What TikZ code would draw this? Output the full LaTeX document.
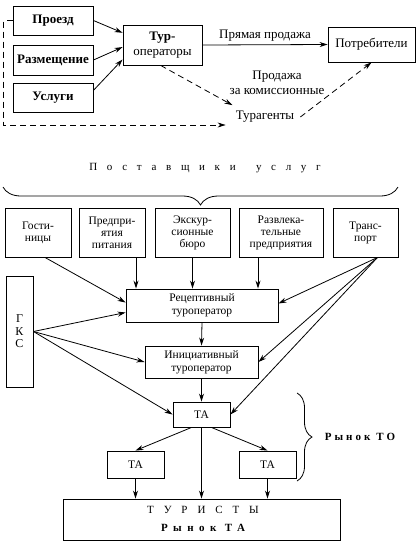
\documentclass[tikz,border=0pt]{standalone}
\usepackage{fontspec}
\setmainfont{Liberation Serif}
\usepackage{tikz}
\usetikzlibrary{calc,arrows.meta,decorations.pathreplacing}
\tikzset{
  box/.style={draw, line width=0.9pt, inner sep=1pt, align=center},
  topf/.style={font=\fontsize{13}{14.5}\selectfont},
  topb/.style={font=\fontsize{13}{14.5}\selectfont\bfseries},
  lowf/.style={font=\fontsize{11.5}{12}\selectfont},
  arr/.style={-{Stealth[length=8pt,width=5pt]}, line width=0.8pt},
  dashline/.style={arr, dash pattern=on 6pt off 4pt},
  brc/.style={decorate, line width=0.8pt},
  wide/.style={font=\fontsize{11}{12}\selectfont\addfontfeature{LetterSpace=#1}},
  wideb/.style={font=\fontsize{11}{12}\selectfont\bfseries\addfontfeature{LetterSpace=#1}},
}
\begin{document}
\begin{tikzpicture}[x=1pt,y=-1pt]
  \useasboundingbox (0,0) rectangle (420,544);

  % top scheme
  \node[box,topb,minimum width=80,minimum height=29] (proezd) at (53,20.5) {Проезд};
  \node[box,topb,minimum width=80,minimum height=30] (razm) at (53,60) {Размещение};
  \node[box,topb,minimum width=80,minimum height=29] (uslugi) at (53,97.5) {Услуги};
  \node[box,topf,minimum width=79,minimum height=40] (turop) at (162.5,45) {\textbf{Тур-}\\операторы};
  \node[box,topf,minimum width=87,minimum height=35] (potreb) at (371.5,44.5) {Потребители};
  \node[topf,inner sep=6pt] (tura) at (265,117) {Турагенты};
  \node[topf,align=center] (komis) at (277,83) {Продажа\\за комиссионные};

  \draw[arr] (proezd.east) -- (turop.163);
  \draw[arr] (razm.east) -- (turop.183);
  \draw[arr] (uslugi.10) -- (turop.200);
  \draw[arr] (turop.east) -- node[topf,above] {Прямая продажа} (potreb.west);
  \draw[dashline] (turop.-95) -- (tura.160);
  \draw[dashline] (tura.east) -- (potreb.south);
  \draw[dashline] (proezd.west) -- ++(-9,0) |- ($(tura.west)+(-4,8)$);

  % lower scheme
  \node[wide=88] (post) at (205,168) {Поставщики\hspace{8pt} услуг};
  \draw[brc,decoration={brace,amplitude=18pt}] (398,187) -- (3,187);

  \node[box,lowf,minimum width=66,minimum height=49] (gost) at (38,232.5) {Гости-\\ницы};
  \node[box,lowf,minimum width=66,minimum height=49] (pitan) at (112,232.5) {Предпри-\\ятия\\питания};
  \node[box,lowf,minimum width=75,minimum height=49] (ekskur) at (192.5,232.5) {Экскур-\\сионные\\бюро};
  \node[box,lowf,minimum width=84,minimum height=49] (razvl) at (281,232.5) {Развлека-\\тельные\\предприятия};
  \node[box,lowf,minimum width=65,minimum height=49] (transp) at (365.5,232.5) {Транс-\\порт};

  \node[box,font=\fontsize{12}{12.5}\selectfont,minimum width=27,minimum height=111] (gks) at (19.5,331.5) {Г\\К\\С};
  \node[box,font=\fontsize{11.5}{13}\selectfont,minimum width=152,minimum height=33] (recep) at (202,305.5) {Рецептивный\\туроператор};
  \node[box,font=\fontsize{11.5}{13}\selectfont,minimum width=113,minimum height=32] (inic) at (201.5,362) {Инициативный\\туроператор};
  \node[box,lowf,minimum width=57,minimum height=25] (ta) at (201.5,414.5) {ТА};
  \node[box,lowf,minimum width=57,minimum height=27] (taL) at (135.5,464.5) {ТА};
  \node[box,lowf,minimum width=57,minimum height=27] (taR) at (267.5,464.5) {ТА};
  \node[box,minimum width=277,minimum height=41] (turist) at (201.5,519.5) {};
  \node[wide=90] (turtxt) at (203,510) {ТУРИСТЫ};
  \node[wideb=50] (rynokTA) at (203,528) {Рынок ТА};

  \draw[brc,decoration={brace,amplitude=15pt}] (297,393) -- (297,481);
  \node[wideb=28] (rynokTO) at (360,437) {Рынок ТО};

  \draw[arr] ($(gost.south)+(7,0)$) -- ($(recep.west)+(0,-3)$);
  \draw[arr] ($(pitan.south)+(24,0)$) coordinate (p1) -- (p1 |- recep.north);
  \draw[arr] (ekskur.south) -- (ekskur.south |- recep.north);
  \draw[arr] ($(razvl.south)+(-23,0)$) coordinate (p2) -- (p2 |- recep.north);
  \draw[arr] ($(transp.south)+(12,0)$) coordinate (p3) -- ($(recep.east)+(0,-2)$);
  \draw[arr] (p3) -- (inic.east);
  \draw[arr] (p3) -- (ta.east);
  \draw[arr] (gks.east) -- ($(recep.west)+(0,7)$);
  \draw[arr] (gks.east) -- (inic.west);
  \draw[arr] (gks.east) -- (ta.west);
  \draw[arr] (recep.south) -- (inic.north);
  \draw[arr] (inic.south) -- (ta.north);
  \draw[arr] ($(ta.south)+(-10,0)$) -- (taL.north);
  \draw[arr] ($(ta.south)+(10,0)$) -- (taR.north);
  \draw[arr] (ta.south) -- (turist.north);
  \draw[arr] (taL.south) -- (taL.south |- turist.north);
  \draw[arr] (taR.south) -- (taR.south |- turist.north);
\end{tikzpicture}
\end{document}
